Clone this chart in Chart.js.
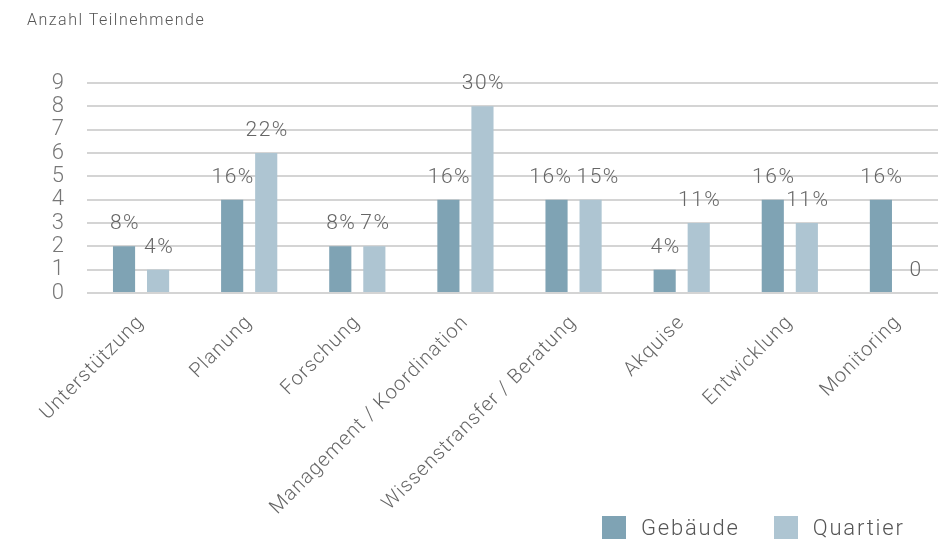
<!DOCTYPE html>
<html lang="de">
<head>
<meta charset="utf-8">
<script src="https://cdn.jsdelivr.net/npm/chart.js@4/dist/chart.umd.min.js"></script>
<style>
  html, body { margin: 0; padding: 0; background: #fff; overflow: hidden; }
  #frame { position: relative; width: 938px; height: 539px; overflow: hidden; }
  #title { position: absolute; left: 27px; top: 10px; font: 300 16px Roboto, sans-serif; color: #555; letter-spacing: 1.5px; }
  #chart { position: absolute; left: 0; top: 0; }
  #legend { position: absolute; left: 602px; top: 515px; display: flex; align-items: center; font: 300 22px Roboto, sans-serif; color: #555; letter-spacing: 1.8px; }
  #legend .sw { width: 24px; height: 24px; margin-right: 15px; }
  #legend .item { display: flex; align-items: center; margin-right: 34px; }
</style>
</head>
<body>
<div id="frame">
  <canvas id="chart" width="952" height="539"></canvas>
  <div id="title">Anzahl Teilnehmende</div>
  <div id="legend"></div>
</div>
<script>
// Tätigkeitsbereiche der Teilnehmenden
const categories = ['Unterstützung', 'Planung', 'Forschung', 'Management / Koordination',
  'Wissenstransfer / Beratung', 'Akquise', 'Entwicklung', 'Monitoring'];
const seriesNames = ['Gebäude', 'Quartier'];
// Anzahl Teilnehmende je Bereich
const gebaeudeCounts = [2, 4, 2, 4, 4, 1, 4, 4];
const quartierCounts = [1, 6, 2, 8, 4, 3, 3, 0];
// Anteil in Prozent (Beschriftung über den Balken)
const gebaeudePct = [8, 16, 8, 16, 16, 4, 16, 16];
const quartierPct = [4, 22, 7, 30, 15, 11, 11, 0];
const yTicks = [0, 1, 2, 3, 4, 5, 6, 7, 8, 9];

const colors = ['#7fa3b4', '#aec5d2'];
const pctLabels = [gebaeudePct, quartierPct];

// slight letter spacing for all canvas text
const spacing = {
  id: 'spacing',
  beforeUpdate(chart) { chart.ctx.letterSpacing = '1px'; },
  beforeDraw(chart) { chart.ctx.letterSpacing = '1px'; }
};

// percentage label above each bar; neighbouring labels at the same
// height are pushed apart so they do not overlap
const valueLabels = {
  id: 'valueLabels',
  afterDatasetsDraw(chart) {
    const ctx = chart.ctx;
    ctx.save();
    ctx.letterSpacing = '1.5px';
    ctx.font = '300 21px Roboto, sans-serif';
    ctx.fillStyle = '#666';
    ctx.textAlign = 'center';
    ctx.textBaseline = 'alphabetic';
    const metaA = chart.getDatasetMeta(0);
    const metaB = chart.getDatasetMeta(1);
    categories.forEach((c, i) => {
      const items = [metaA.data[i], metaB.data[i]].map((el, di) => {
        const p = pctLabels[di][i];
        const txt = p === 0 ? '0' : p + '%';
        return { txt, x: el.x + 1, y: el.y - 17, w: ctx.measureText(txt).width };
      });
      const [a, b] = items;
      if (Math.abs(a.y - b.y) < 18) {
        const gap = (b.x - b.w / 2) - (a.x + a.w / 2);
        if (gap < 4) {
          const shift = (4 - gap) / 2;
          a.x -= shift;
          b.x += shift;
        }
      }
      items.forEach(it => ctx.fillText(it.txt, it.x, it.y));
    });
    ctx.restore();
  }
};

const chart = new Chart(document.getElementById('chart'), {
  type: 'bar',
  data: {
    labels: categories,
    datasets: [
      { label: seriesNames[0], data: gebaeudeCounts, backgroundColor: colors[0] },
      { label: seriesNames[1], data: quartierCounts, backgroundColor: colors[1] }
    ]
  },
  options: {
    responsive: false,
    animation: false,
    categoryPercentage: 0.63,
    barPercentage: 0.65,
    layout: { padding: { top: 83, left: 0, right: 0, bottom: 0 } },
    plugins: { legend: { display: false }, tooltip: { enabled: false } },
    scales: {
      x: {
        grid: { display: false },
        border: { display: false },
        ticks: {
          autoSkip: false, minRotation: 45, maxRotation: 45, padding: 10,
          color: '#666', font: { family: 'Roboto', size: 20, weight: 300 }
        },
        afterFit(scale) { scale.height = 246; }
      },
      y: {
        min: yTicks[0], max: yTicks[yTicks.length - 1],
        ticks: {
          stepSize: 1, autoSkip: false, padding: 22, color: '#777',
          callback: (v) => yTicks.includes(v) ? String(v) : '',
          font: { family: 'Roboto', size: 22, weight: 300 }
        },
        grid: { color: '#d4d4d4', lineWidth: 2, drawTicks: false },
        border: { display: false },
        afterFit(scale) { scale.width = 87; }
      }
    }
  },
  plugins: [spacing, valueLabels]
});

// legend
const legend = document.getElementById('legend');
seriesNames.forEach((name, i) => {
  const item = document.createElement('div');
  item.className = 'item';
  const sw = document.createElement('div');
  sw.className = 'sw';
  sw.style.background = colors[i];
  const t = document.createElement('span');
  t.textContent = name;
  item.appendChild(sw);
  item.appendChild(t);
  legend.appendChild(item);
});
</script>
</body>
</html>
